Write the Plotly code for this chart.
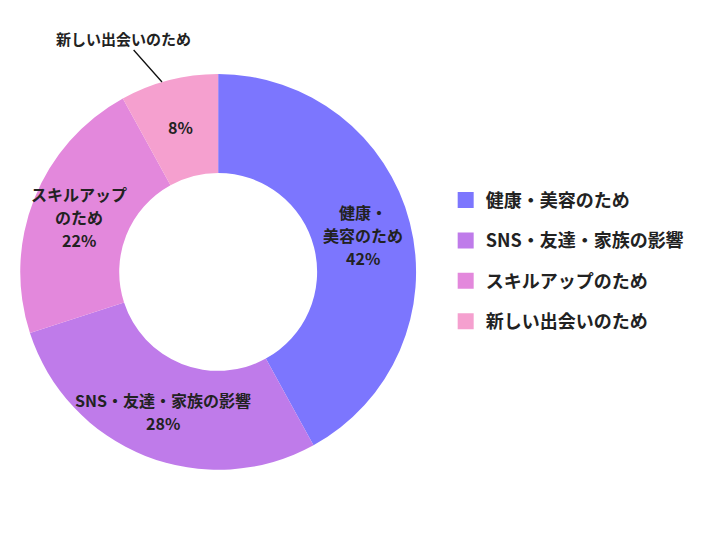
import math
import plotly.graph_objects as go

# data
labels = ["健康・美容のため", "SNS・友達・家族の影響", "スキルアップのため", "新しい出会いのため"]
values = [42, 28, 22, 8]
inner_lines = [["健康・", "美容のため"], ["SNS・友達・家族の影響"], ["スキルアップ", "のため"], []]
colors = ["#7C76FE", "#BF7BEA", "#E388DC", "#F5A0CF"]

FONT = "Noto Sans CJK JP"
W, H = 720, 540
CX, CY, R_MID = 218, 272, 150  # pie centre and label radius, in pixels
LINE = 23  # label line spacing, pixels

fig = go.Figure()
fig.add_trace(go.Pie(
    labels=labels,
    values=values,
    textinfo="none",
    marker=dict(colors=colors, line=dict(width=0)),
    hole=0.5,
    sort=False,
    direction="clockwise",
    rotation=0,
    showlegend=False,
    hoverinfo="none",
    domain=dict(x=[0.028, 0.578], y=[0.13, 0.863]),
))

# slice labels at the middle angle of each slice, one annotation per line
total = sum(values)
cum = 0
for lines, v in zip(inner_lines, values):
    mid = (cum + v / 2) / total * 2 * math.pi
    cum += v
    px_ = CX + R_MID * math.sin(mid)
    py_ = CY - R_MID * math.cos(mid)
    rows = lines + [f"{v}%"]
    n = len(rows)
    for i, row in enumerate(rows):
        ly = py_ + (i - (n - 1) / 2) * LINE
        fig.add_annotation(
            x=px_ / W, y=1 - ly / H, xref="paper", yref="paper",
            xanchor="center", yanchor="middle",
            text=row, showarrow=False,
            font=dict(family=FONT, size=16, color="#222222", weight=600),
        )

# legend entries (one group each so the gap can be set)
for lab, col in zip(labels, colors):
    fig.add_trace(go.Scatter(
        x=[None], y=[None], mode="markers", name=lab,
        marker=dict(symbol="square", size=16, color=col),
        legendgroup=lab, hoverinfo="none",
    ))

fig.add_annotation(
    x=162 / W, y=1 - 82 / H, xref="paper", yref="paper",
    text="新しい出会いのため", showarrow=True, arrowhead=0, arrowwidth=1.3,
    arrowcolor="#111111", ax=-39, ay=-44,
    font=dict(family=FONT, size=15, color="#222222", weight=600),
)

fig.update_layout(
    width=W, height=H,
    margin=dict(l=0, r=0, t=0, b=0),
    paper_bgcolor="white", plot_bgcolor="white",
    xaxis=dict(visible=False), yaxis=dict(visible=False),
    legend=dict(
        x=0.619, y=0.517, xanchor="left", yanchor="middle",
        tracegroupgap=14,
        font=dict(family=FONT, size=18, color="#222222", weight=600),
    ),
)

fig.write_html("out.html", config={"displayModeBar": False},
               post_script="document.body.style.margin='0';")
